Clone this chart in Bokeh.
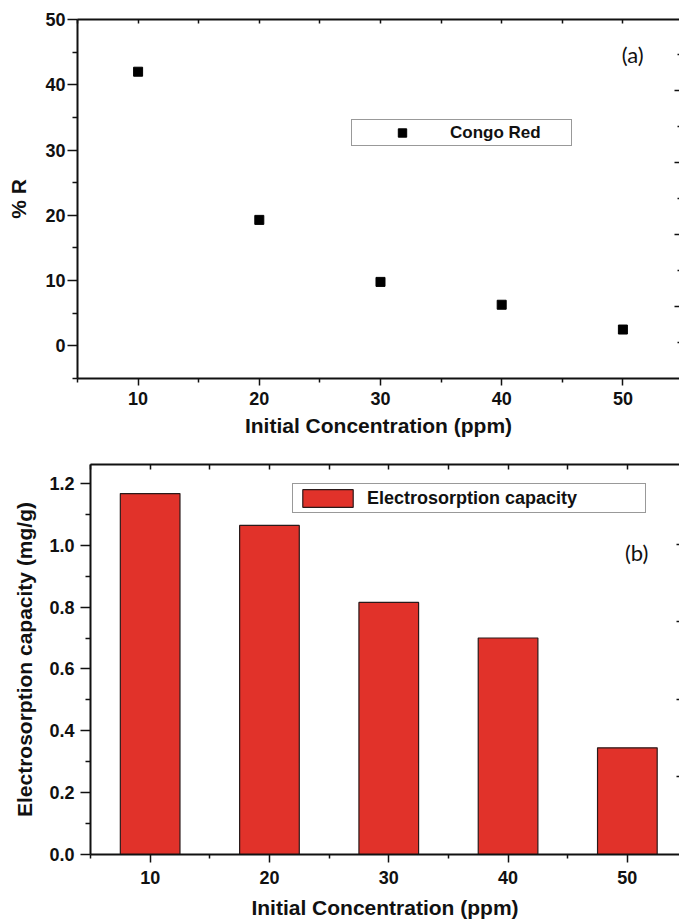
from bokeh.plotting import figure
from bokeh.models import (LinearAxis, Range1d, FixedTicker, Legend, LegendItem,
                          Label, NumeralTickFormatter)
from bokeh.embed import file_html
from bokeh.resources import INLINE

# ---------------- data ----------------
conc = [10, 20, 30, 40, 50]
removal_pct = [42.0, 19.3, 9.8, 6.3, 2.5]
capacity = [1.167, 1.064, 0.815, 0.700, 0.345]

x_major = [10, 20, 30, 40, 50]
x_minor = [5, 15, 25, 35, 45, 55]
ya_major = [0, 10, 20, 30, 40, 50]
ya_minor = [-5, 5, 15, 25, 35, 45]
yb_major = [0.0, 0.2, 0.4, 0.6, 0.8, 1.0, 1.2]
yb_minor = [0.1, 0.3, 0.5, 0.7, 0.9, 1.1]
# ticks of the neighbouring (cut-off) right-hand axes
ra_major = [72, 144, 216, 288]
ra_minor = [36, 108, 180, 252, 324]
rb_major = [78, 156, 234, 312]

FONT = "Liberation Sans"
INK = "#111111"


def style_axis(ax, major_out=0, minor_out=0, major_in=0, minor_in=0,
               labels=True, lab_size="18px", line=True):
    ax.axis_line_color = INK if line else None
    ax.axis_line_width = 2
    ax.major_tick_line_color = INK
    ax.minor_tick_line_color = INK
    ax.major_tick_line_width = 1.5
    ax.minor_tick_line_width = 1.5
    ax.major_tick_out = major_out
    ax.minor_tick_out = minor_out
    ax.major_tick_in = major_in
    ax.minor_tick_in = minor_in
    if labels:
        ax.major_label_text_font = FONT
        ax.major_label_text_font_style = "bold"
        ax.major_label_text_font_size = lab_size
        ax.major_label_text_color = INK
    else:
        ax.major_label_text_font_size = "0px"
        ax.major_label_standoff = 0
        ax.major_label_text_alpha = 0
    ax.axis_label_text_font = FONT
    ax.axis_label_text_font_style = "bold"
    ax.axis_label_text_font_size = "21px"
    ax.axis_label_text_color = INK


# ---------------- panel (a) ----------------
p1 = figure(width=679, height=445, x_range=Range1d(5, 54.67), y_range=Range1d(-5, 50),
            output_backend="svg", toolbar_location=None,
            x_axis_location=None, y_axis_location=None,
            min_border_left=77, min_border_right=0, min_border_top=19, min_border_bottom=67)
p1.outline_line_color = None
p1.grid.visible = False
p1.extra_y_ranges = {"r": Range1d(0, 359)}

ax_b = LinearAxis(ticker=FixedTicker(ticks=x_major, minor_ticks=x_minor),
                  axis_label="Initial Concentration (ppm)")
style_axis(ax_b, major_out=7, minor_out=4)
ax_b.major_label_standoff = 6
ax_b.axis_label_standoff = 6
p1.add_layout(ax_b, "below")

ax_l = LinearAxis(ticker=FixedTicker(ticks=ya_major, minor_ticks=ya_minor), axis_label="% R")
style_axis(ax_l, major_out=10, minor_out=5)
ax_l.major_label_standoff = 2
ax_l.axis_label_standoff = 12
p1.add_layout(ax_l, "left")

ax_t = LinearAxis(ticker=FixedTicker(ticks=x_major, minor_ticks=x_minor))
style_axis(ax_t, major_in=4, minor_in=4, labels=False)
p1.add_layout(ax_t, "above")

ax_r = LinearAxis(y_range_name="r", ticker=FixedTicker(ticks=ra_major, minor_ticks=ra_minor))
style_axis(ax_r, major_in=5, minor_in=2, labels=False, line=False)
p1.add_layout(ax_r, "right")

sc = p1.scatter(conc, removal_pct, marker="square", size=9, fill_color="black", line_color="black")

leg1 = Legend(items=[LegendItem(label="Congo Red", renderers=[sc])], location=(274, 232),
              padding=2, glyph_width=96, glyph_height=21, label_height=21,
              label_width=119, label_standoff=0,
              label_text_font=FONT, label_text_font_style="bold", label_text_font_size="17px",
              label_text_color=INK, border_line_color="#333333", border_line_width=1,
              background_fill_alpha=1)
p1.add_layout(leg1, "center")

p1.add_layout(Label(x=49.9, y=44.6, text="(a)", text_font="Lato", text_font_size="22px",
                    text_baseline="middle", text_color=INK))

# ---------------- panel (b) ----------------
p2 = figure(width=679, height=476, x_range=Range1d(5, 54.37), y_range=Range1d(0, 1.261),
            output_backend="svg", toolbar_location=None,
            x_axis_location=None, y_axis_location=None,
            min_border_left=90, min_border_right=0, min_border_top=19, min_border_bottom=65)
p2.outline_line_color = None
p2.grid.visible = False
p2.extra_y_ranges = {"r": Range1d(0, 392)}

bx_b = LinearAxis(ticker=FixedTicker(ticks=x_major, minor_ticks=x_minor),
                  axis_label="Initial Concentration (ppm)")
style_axis(bx_b, major_out=8, minor_out=4)
bx_b.major_label_standoff = 8
bx_b.axis_label_standoff = 9
p2.add_layout(bx_b, "below")

bx_l = LinearAxis(ticker=FixedTicker(ticks=yb_major, minor_ticks=yb_minor),
                  axis_label="Electrosorption capacity (mg/g)")
style_axis(bx_l, major_out=10, minor_out=5)
bx_l.formatter = NumeralTickFormatter(format="0.0")
bx_l.major_label_standoff = 6
bx_l.axis_label_standoff = 10
p2.add_layout(bx_l, "left")

bx_t = LinearAxis(ticker=FixedTicker(ticks=x_major, minor_ticks=x_minor))
style_axis(bx_t, major_in=5, minor_in=5, labels=False)
p2.add_layout(bx_t, "above")

bx_r = LinearAxis(y_range_name="r", ticker=FixedTicker(ticks=rb_major, minor_ticks=[]))
style_axis(bx_r, major_in=3, labels=False, line=False)
p2.add_layout(bx_r, "right")

bars = p2.vbar(x=conc, top=capacity, width=5, bottom=0, fill_color="#E1322A",
               line_color="#2a1a1a", line_width=1.2)

leg2 = Legend(items=[LegendItem(label="Electrosorption capacity", renderers=[bars])],
              location=(202, 341),
              padding=3, glyph_width=63, glyph_height=22, label_height=22,
              label_width=275, label_standoff=8,
              label_text_font=FONT, label_text_font_style="bold", label_text_font_size="18px",
              label_text_color=INK, border_line_color="#333333", border_line_width=1,
              background_fill_alpha=1)
p2.add_layout(leg2, "center")

p2.add_layout(Label(x=49.8, y=0.977, text="(b)", text_font="Lato", text_font_size="22px",
                    text_baseline="middle", text_color=INK))

# two independent roots, so that the two plot frames are not aligned to each other
open("out.html", "w").write(file_html([p1, p2], INLINE))
